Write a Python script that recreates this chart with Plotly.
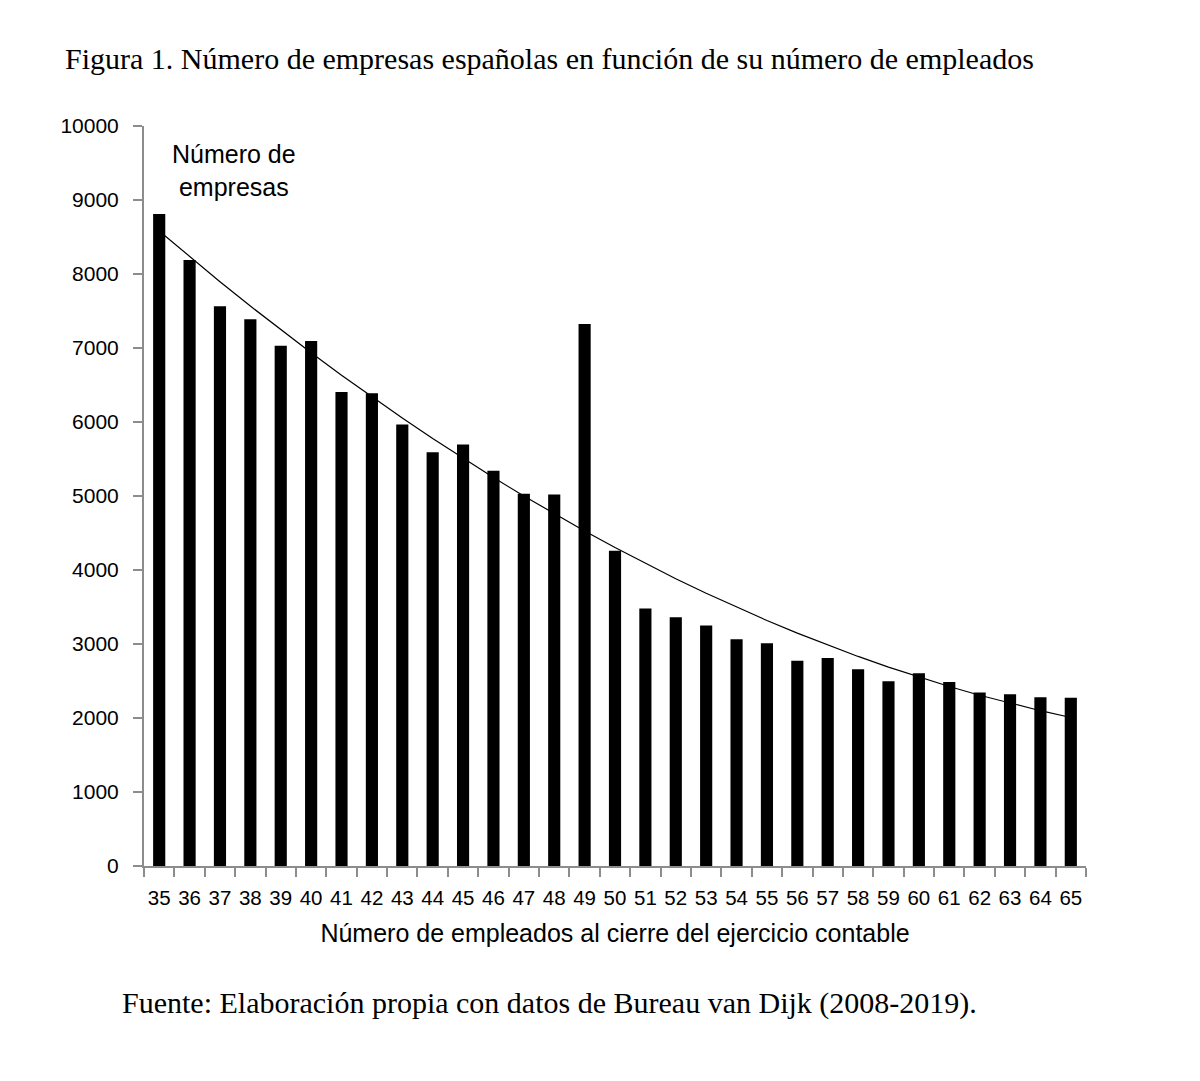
import numpy as np
import plotly.graph_objects as go

# empleados al cierre del ejercicio (35..65) y numero de empresas
empleados = [str(n) for n in range(35, 66)]
empresas = [8810, 8190, 7565, 7390, 7030, 7095, 6405, 6390, 5965, 5590,
            5695, 5340, 5030, 5020, 7325, 4260, 3480, 3360, 3250, 3065,
            3010, 2775, 2810, 2660, 2495, 2605, 2485, 2345, 2320, 2280, 2275]

titulo = "Figura 1. Número de empresas españolas en función de su número de empleados"
fuente = "Fuente: Elaboración propia con datos de Bureau van Dijk (2008-2019)."
y_ticks = list(range(0, 10001, 1000))

# tendencia polinomica de orden 2 (como la linea de tendencia de Excel)
k = np.arange(1, len(empresas) + 1)
coef = np.polyfit(k, empresas, 2)
tendencia = np.polyval(coef, k)

fig = go.Figure()
fig.add_trace(go.Bar(x=empleados, y=empresas, width=0.4,
                     marker=dict(color="black", line=dict(width=0)),
                     showlegend=False))
fig.add_trace(go.Scatter(x=empleados, y=tendencia, mode="lines",
                         line=dict(color="black", width=1.2), showlegend=False))

sans = "Liberation Sans, Arial, sans-serif"
serif = "Liberation Serif, Times New Roman, serif"

# plot area: 942 x 740 px (the page adds an 8px body margin)
L, T, W, H = 136, 118, 942, 740

fig.update_layout(
    width=1200, height=1081,
    margin=dict(l=L, r=1200 - L - W, t=T, b=1081 - T - H),
    plot_bgcolor="white", paper_bgcolor="white",
    font=dict(family=sans, size=21, color="black"),
    xaxis=dict(type="category", showline=True, linecolor="#8c8c8c", linewidth=2,
               ticks="outside", tickson="boundaries", ticklen=9, tickcolor="#8c8c8c",
               tickwidth=2, showgrid=False, tickangle=0, dtick=1,
               ticklabelstandoff=12, tickfont=dict(size=20.5),
               title=dict(text="Número de empleados al cierre del ejercicio contable",
                          font=dict(size=25), standoff=17)),
    yaxis=dict(range=[0, 10000], tickvals=y_ticks, tickformat="d", showline=True,
               linecolor="#8c8c8c", linewidth=2, ticks="outside", ticklen=9,
               tickcolor="#8c8c8c", tickwidth=2, ticklabelstandoff=10,
               showgrid=False, zeroline=False, tickfont=dict(size=21)),
    annotations=[
        dict(text=titulo, x=(55 - L) / W, y=1 + (T - 50) / H, xref="paper", yref="paper",
             xanchor="left", yanchor="middle", showarrow=False,
             font=dict(family=serif, size=30)),
        dict(text="Número de<br>empresas", x=2.45, y=9400, xref="x", yref="y",
             showarrow=False, font=dict(size=25)),
        dict(text=fuente, x=(112 - L) / W, y=-(995 - T - H) / H, xref="paper", yref="paper",
             xanchor="left", yanchor="middle", showarrow=False,
             font=dict(family=serif, size=30)),
    ],
)

fig.write_html("out.html")
